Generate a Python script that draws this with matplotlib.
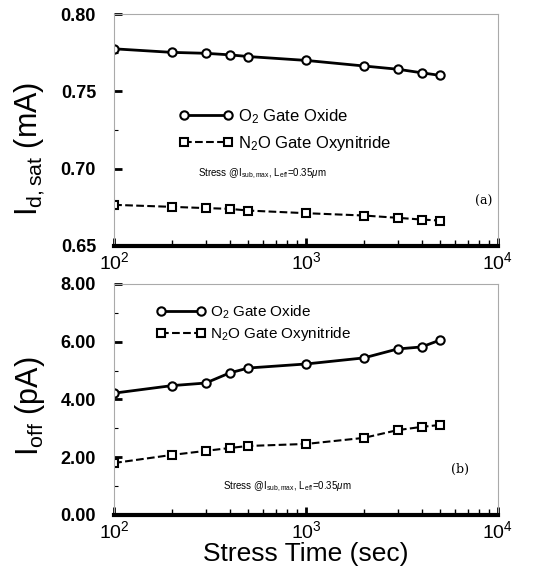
import matplotlib
matplotlib.use("Agg")
import matplotlib.pyplot as plt
from matplotlib.ticker import FixedLocator, FormatStrFormatter, LogLocator, NullFormatter

# stress time (sec)
stress_time = [100, 200, 300, 400, 500, 1000, 2000, 3000, 4000, 5000]

# Id,sat (mA)
idsat_o2 = [0.7775, 0.7752, 0.7746, 0.7736, 0.7725, 0.7700, 0.7664, 0.7643, 0.7620, 0.7603]
idsat_n2o = [0.6766, 0.6753, 0.6745, 0.6740, 0.6729, 0.6712, 0.6697, 0.6682, 0.6671, 0.6664]

# Ioff (pA)
ioff_o2 = [4.22, 4.48, 4.57, 4.92, 5.09, 5.23, 5.44, 5.75, 5.82, 6.06]
ioff_n2o = [1.80, 2.08, 2.22, 2.32, 2.39, 2.46, 2.67, 2.94, 3.05, 3.12]

x_ticks = [1e2, 1e3, 1e4]
x_ticklabels = [r"$10^2$", r"$10^3$", r"$10^4$"]
top_yticks = [0.65, 0.70, 0.75, 0.80]
bot_yticks = [0.0, 2.0, 4.0, 6.0, 8.0]

lbl_o2 = r"O$_2$ Gate Oxide"
lbl_n2o = r"N$_2$O Gate Oxynitride"
note = r"Stress @I$_{\mathrm{sub,max}}$, L$_{\mathrm{eff}}$=0.35$\mu$m"

plt.rcParams['font.family'] = ['Liberation Sans', 'DejaVu Sans']
plt.rcParams['mathtext.fontset'] = 'custom'
plt.rcParams['mathtext.rm'] = 'Liberation Sans'
plt.rcParams['mathtext.it'] = 'Liberation Sans:italic'

fig = plt.figure(figsize=(5.41, 5.77), dpi=100)
ax1 = fig.add_axes([0.211, 0.5737, 0.7095, 0.402])
ax2 = fig.add_axes([0.211, 0.1075, 0.7095, 0.4003])

mk = dict(markersize=6, markerfacecolor='white', markeredgecolor='black', markeredgewidth=1.5, color='black')


def style(ax, yticks, fmt, minor):
    ax.set_xscale('log')
    ax.set_xlim(1e2, 1e4)
    ax.set_ylim(yticks[0], yticks[-1])
    for s in ['top', 'right', 'left']:
        ax.spines[s].set_color('#aaaaaa')
        ax.spines[s].set_linewidth(0.8)
    ax.spines['bottom'].set_linewidth(3)
    ax.xaxis.set_major_locator(FixedLocator(x_ticks))
    ax.set_xticklabels(x_ticklabels, fontsize=14, family='DejaVu Serif')
    ax.xaxis.set_minor_locator(LogLocator(base=10, subs=range(2, 10)))
    ax.xaxis.set_minor_formatter(NullFormatter())
    ax.yaxis.set_major_locator(FixedLocator(yticks))
    ax.yaxis.set_minor_locator(FixedLocator(minor))
    ax.yaxis.set_major_formatter(FormatStrFormatter(fmt))
    ax.tick_params(which='both', direction='in', top=False, right=False)
    ax.tick_params(axis='x', which='major', length=6, width=2, pad=4)
    ax.tick_params(axis='x', which='minor', length=4, width=1)
    ax.tick_params(axis='y', which='major', length=6, width=2, pad=13, labelsize=13)
    ax.tick_params(axis='y', which='minor', length=3, width=0.8)
    for t in ax.get_yticklabels():
        t.set_fontweight('bold')


ax1.plot(stress_time, idsat_o2, '-o', lw=2, label=lbl_o2, **mk)
ax1.plot(stress_time, idsat_n2o, '--s', lw=1.5, label=lbl_n2o, **mk)
style(ax1, top_yticks, '%.2f', [0.675, 0.725, 0.775])
ax1.set_ylabel(r"I$_{\mathrm{d,sat}}$ (mA)", fontsize=22)
ax1.yaxis.set_label_coords(-0.175, 0.42)
ax1.legend(loc='center left', bbox_to_anchor=(0.17, 0.50), frameon=False, numpoints=2,
           handlelength=3.2, handletextpad=0.3, labelspacing=0.5, fontsize=12,
           borderpad=0, borderaxespad=0)
ax1.text(0.385, 0.31, note, transform=ax1.transAxes, fontsize=7, ha='center', va='center')
ax1.text(0.985, 0.19, "(a)", transform=ax1.transAxes, fontsize=9, family='DejaVu Serif',
         ha='right', va='center')

ax2.plot(stress_time, ioff_o2, '-o', lw=2, label=lbl_o2, **mk)
ax2.plot(stress_time, ioff_n2o, '--s', lw=1.5, label=lbl_n2o, **mk)
style(ax2, bot_yticks, '%.2f', [1, 3, 5, 7])
ax2.set_ylabel(r"I$_{\mathrm{off}}$ (pA)", fontsize=22)
ax2.yaxis.set_label_coords(-0.175, 0.47)
ax2.set_xlabel("Stress Time (sec)", fontsize=19, labelpad=0)
ax2.legend(loc='center left', bbox_to_anchor=(0.11, 0.83), frameon=False, numpoints=2,
           handlelength=3.2, handletextpad=0.3, labelspacing=0.3, fontsize=11,
           borderpad=0, borderaxespad=0)
ax2.text(0.45, 0.12, note, transform=ax2.transAxes, fontsize=7, ha='center', va='center')
ax2.text(0.925, 0.195, "(b)", transform=ax2.transAxes, fontsize=9, family='DejaVu Serif',
         ha='right', va='center')

fig.savefig("out.png", dpi=100)
